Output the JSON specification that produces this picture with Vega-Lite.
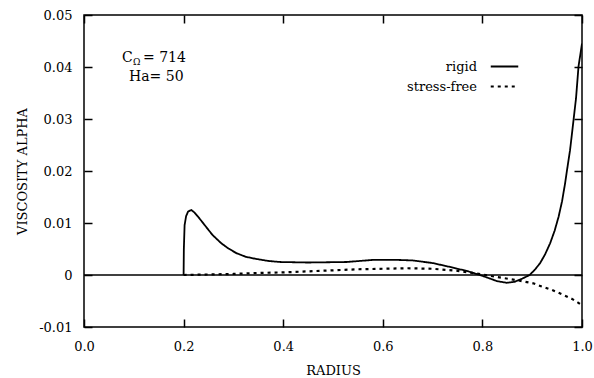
{
  "$schema": "https://vega.github.io/schema/vega-lite/v6.json",
  "width": 498,
  "height": 312,
  "autosize": {"type": "none"},
  "padding": {"left": 84, "top": 15, "right": 12, "bottom": 51},
  "background": "white",
  "config": {
    "view": {"stroke": "black", "strokeWidth": 1.5},
    "font": "DejaVu Serif",
    "axis": {
      "grid": false,
      "domain": false,
      "labelFlush": false,
      "labelOverlap": false,
      "tickSize": -8,
      "tickColor": "black",
      "tickWidth": 1.5,
      "labelFont": "DejaVu Serif",
      "labelFontSize": 13,
      "labelColor": "black",
      "titleFont": "DejaVu Serif",
      "titleFontSize": 13,
      "titleFontWeight": "normal",
      "titleColor": "black"
    }
  },
  "datasets": {
    "curves": [
      {"r": 0.2, "alpha": 0.0, "series": "rigid"},
      {"r": 0.2005, "alpha": 0.005, "series": "rigid"},
      {"r": 0.202, "alpha": 0.0096, "series": "rigid"},
      {"r": 0.205, "alpha": 0.0113, "series": "rigid"},
      {"r": 0.209, "alpha": 0.0122, "series": "rigid"},
      {"r": 0.2155, "alpha": 0.0125, "series": "rigid"},
      {"r": 0.222, "alpha": 0.012, "series": "rigid"},
      {"r": 0.23, "alpha": 0.0111, "series": "rigid"},
      {"r": 0.2423, "alpha": 0.0096, "series": "rigid"},
      {"r": 0.258, "alpha": 0.0077, "series": "rigid"},
      {"r": 0.2757, "alpha": 0.0061, "series": "rigid"},
      {"r": 0.29, "alpha": 0.0051, "series": "rigid"},
      {"r": 0.306, "alpha": 0.0042, "series": "rigid"},
      {"r": 0.325, "alpha": 0.0035, "series": "rigid"},
      {"r": 0.345, "alpha": 0.0031, "series": "rigid"},
      {"r": 0.37, "alpha": 0.0027, "series": "rigid"},
      {"r": 0.394, "alpha": 0.0025, "series": "rigid"},
      {"r": 0.45, "alpha": 0.0024, "series": "rigid"},
      {"r": 0.527, "alpha": 0.0025, "series": "rigid"},
      {"r": 0.58, "alpha": 0.0029, "series": "rigid"},
      {"r": 0.63, "alpha": 0.0029, "series": "rigid"},
      {"r": 0.66, "alpha": 0.0028, "series": "rigid"},
      {"r": 0.7, "alpha": 0.0023, "series": "rigid"},
      {"r": 0.728, "alpha": 0.0017, "series": "rigid"},
      {"r": 0.75, "alpha": 0.0012, "series": "rigid"},
      {"r": 0.768, "alpha": 0.0008, "series": "rigid"},
      {"r": 0.795, "alpha": 0.0, "series": "rigid"},
      {"r": 0.81, "alpha": -0.0005, "series": "rigid"},
      {"r": 0.83, "alpha": -0.0012, "series": "rigid"},
      {"r": 0.849, "alpha": -0.0015, "series": "rigid"},
      {"r": 0.865, "alpha": -0.0013, "series": "rigid"},
      {"r": 0.88, "alpha": -0.0007, "series": "rigid"},
      {"r": 0.895, "alpha": 0.0, "series": "rigid"},
      {"r": 0.906, "alpha": 0.0011, "series": "rigid"},
      {"r": 0.916, "alpha": 0.0023, "series": "rigid"},
      {"r": 0.926, "alpha": 0.004, "series": "rigid"},
      {"r": 0.936, "alpha": 0.0061, "series": "rigid"},
      {"r": 0.945, "alpha": 0.0085, "series": "rigid"},
      {"r": 0.953, "alpha": 0.0112, "series": "rigid"},
      {"r": 0.96, "alpha": 0.0142, "series": "rigid"},
      {"r": 0.966, "alpha": 0.0176, "series": "rigid"},
      {"r": 0.972, "alpha": 0.0215, "series": "rigid"},
      {"r": 0.976, "alpha": 0.024, "series": "rigid"},
      {"r": 0.983, "alpha": 0.0298, "series": "rigid"},
      {"r": 0.988, "alpha": 0.034, "series": "rigid"},
      {"r": 0.993, "alpha": 0.0401, "series": "rigid"},
      {"r": 1.0, "alpha": 0.0445, "series": "rigid"},
      {"r": 0.2, "alpha": 0.0, "series": "stress-free"},
      {"r": 0.25, "alpha": 0.0001, "series": "stress-free"},
      {"r": 0.3, "alpha": 0.0002, "series": "stress-free"},
      {"r": 0.35, "alpha": 0.0004, "series": "stress-free"},
      {"r": 0.4, "alpha": 0.0005, "series": "stress-free"},
      {"r": 0.45, "alpha": 0.0007, "series": "stress-free"},
      {"r": 0.5, "alpha": 0.0009, "series": "stress-free"},
      {"r": 0.55, "alpha": 0.0011, "series": "stress-free"},
      {"r": 0.6, "alpha": 0.0012, "series": "stress-free"},
      {"r": 0.65, "alpha": 0.0013, "series": "stress-free"},
      {"r": 0.7, "alpha": 0.0012, "series": "stress-free"},
      {"r": 0.75, "alpha": 0.0008, "series": "stress-free"},
      {"r": 0.78, "alpha": 0.0004, "series": "stress-free"},
      {"r": 0.8, "alpha": 0.0001, "series": "stress-free"},
      {"r": 0.83, "alpha": -0.0004, "series": "stress-free"},
      {"r": 0.87, "alpha": -0.001, "series": "stress-free"},
      {"r": 0.902, "alpha": -0.0016, "series": "stress-free"},
      {"r": 0.916, "alpha": -0.0021, "series": "stress-free"},
      {"r": 0.94, "alpha": -0.0029, "series": "stress-free"},
      {"r": 0.962, "alpha": -0.0038, "series": "stress-free"},
      {"r": 0.98, "alpha": -0.0046, "series": "stress-free"},
      {"r": 0.992, "alpha": -0.0053, "series": "stress-free"},
      {"r": 1.0, "alpha": -0.0058, "series": "stress-free"}
    ],
    "note": [{"c": "C", "omega": "Ω", "cval": "= 714", "ha": "Ha= 50"}]
  },
  "layer": [
    {
      "data": {"name": "note"},
      "mark": {"type": "rule", "color": "black", "strokeWidth": 1.5},
      "encoding": {
        "y": {"datum": 0, "type": "quantitative", "scale": {"domain": [-0.01, 0.05], "nice": false, "zero": false}, "axis": null}
      }
    },
    {
      "data": {"name": "curves"},
      "transform": [{"filter": "datum.series === 'rigid'"}],
      "mark": {"type": "line", "color": "black", "strokeWidth": 1.8, "clip": true},
      "encoding": {
        "x": {"field": "r", "type": "quantitative", "scale": {"domain": [0, 1], "nice": false},
          "axis": {"orient": "bottom", "title": "RADIUS", "values": [0, 0.2, 0.4, 0.6, 0.8, 1.0], "format": ".1f", "labelPadding": 21, "titlePadding": 11}},
        "y": {"field": "alpha", "type": "quantitative", "scale": {"domain": [-0.01, 0.05], "nice": false, "zero": false},
          "axis": {"orient": "left", "title": "VISCOSITY ALPHA", "values": [-0.01, 0, 0.01, 0.02, 0.03, 0.04, 0.05],
            "labelExpr": "datum.value == 0 ? '0' : (datum.value < 0 ? '-' + format(-datum.value, '.2f') : format(datum.value, '.2f'))",
            "labelPadding": 20, "titlePadding": 9}},
        "strokeDash": {"field": "series", "type": "nominal",
          "scale": {"domain": ["rigid", "stress-free"], "range": [[1, 0], [3, 4]]},
          "legend": {"orient": "none", "legendX": 414, "legendY": 45, "title": null, "symbolType": "M-2.5,0H2.5",
            "symbolSize": 121, "symbolStrokeWidth": 2, "symbolStrokeColor": "black", "symbolFillColor": "transparent",
            "labelAlign": "right", "labelOffset": -34, "labelFont": "DejaVu Serif", "labelFontSize": 13, "labelColor": "black",
            "rowPadding": 6, "padding": 0}}
      }
    },
    {
      "data": {"name": "curves"},
      "transform": [{"filter": "datum.series === 'stress-free'"}],
      "mark": {"type": "line", "color": "black", "strokeWidth": 2.2, "clip": true},
      "encoding": {
        "x": {"field": "r", "type": "quantitative", "scale": {"domain": [0, 1], "nice": false},
          "axis": {"orient": "top", "title": null, "labels": false, "values": [0, 0.2, 0.4, 0.6, 0.8, 1.0]}},
        "y": {"field": "alpha", "type": "quantitative", "scale": {"domain": [-0.01, 0.05], "nice": false, "zero": false},
          "axis": {"orient": "right", "title": null, "labels": false, "values": [-0.01, 0, 0.01, 0.02, 0.03, 0.04, 0.05]}},
        "strokeDash": {"field": "series", "type": "nominal",
          "scale": {"domain": ["rigid", "stress-free"], "range": [[1, 0], [3, 4]]}}
      }
    },
    {
      "data": {"name": "note"},
      "mark": {"type": "text", "align": "left", "baseline": "middle", "fontSize": 14, "font": "DejaVu Serif", "color": "black"},
      "encoding": {
        "x": {"datum": 0.0763, "type": "quantitative", "axis": null},
        "y": {"datum": 0.0417, "type": "quantitative", "axis": null},
        "text": {"field": "c"}
      }
    },
    {
      "data": {"name": "note"},
      "mark": {"type": "text", "align": "left", "baseline": "middle", "fontSize": 9, "font": "DejaVu Serif", "color": "black"},
      "encoding": {
        "x": {"datum": 0.0984, "type": "quantitative", "axis": null},
        "y": {"datum": 0.041, "type": "quantitative", "axis": null},
        "text": {"field": "omega"}
      }
    },
    {
      "data": {"name": "note"},
      "mark": {"type": "text", "align": "left", "baseline": "middle", "fontSize": 14, "font": "DejaVu Serif", "color": "black"},
      "encoding": {
        "x": {"datum": 0.1185, "type": "quantitative", "axis": null},
        "y": {"datum": 0.0417, "type": "quantitative", "axis": null},
        "text": {"field": "cval"}
      }
    },
    {
      "data": {"name": "note"},
      "mark": {"type": "text", "align": "left", "baseline": "middle", "fontSize": 14, "font": "DejaVu Serif", "color": "black"},
      "encoding": {
        "x": {"datum": 0.0904, "type": "quantitative", "axis": null},
        "y": {"datum": 0.038, "type": "quantitative", "axis": null},
        "text": {"field": "ha"}
      }
    }
  ]
}
